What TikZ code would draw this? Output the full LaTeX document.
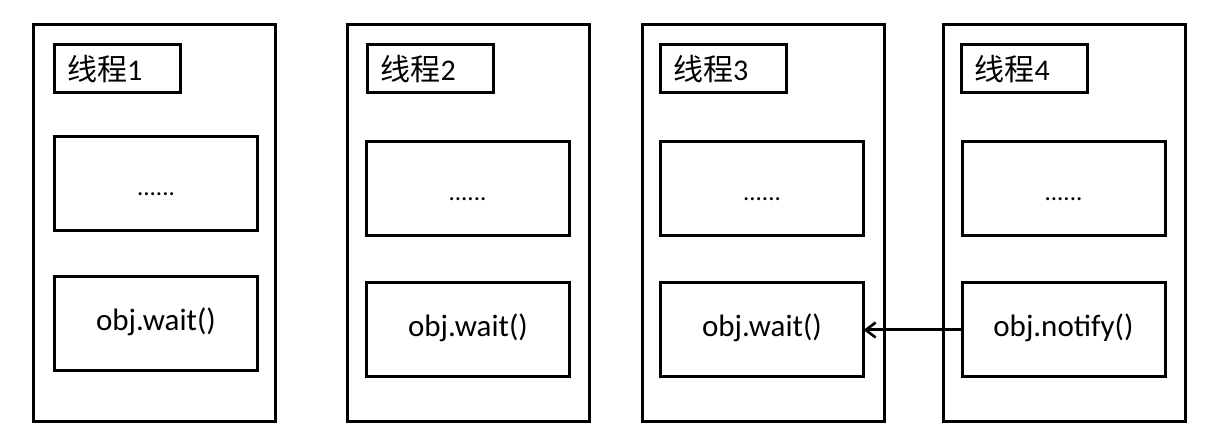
\documentclass[tikz,border=0pt]{standalone}
\usepackage{fontspec}
\setmainfont{Carlito}
\newfontfamily\cjk{Noto Sans CJK SC}
\usetikzlibrary{arrows.meta}
\begin{document}
\begin{tikzpicture}[x=1pt,y=1pt,
  every node/.style={inner sep=0pt, outer sep=0pt, font=\fontsize{31}{32}\selectfont},
  outerbox/.style={draw, line width=3pt, minimum width=242pt, minimum height=397pt},
  titlebox/.style={draw, line width=3pt, minimum height=48pt, inner xsep=13pt, text width=100pt, align=left, font=\fontsize{30}{32}\selectfont},
  stepbox/.style={draw, line width=3pt, minimum width=203pt, minimum height=94pt},
  dots/.style={font=\fontsize{25}{32}\selectfont},
  link/.style={line width=3pt, -{Straight Barb[length=10pt,width=15pt,line width=2.6pt]}}
]
\useasboundingbox (0,0) rectangle (1216,444);
\fill[white] (0,0) rectangle (1216,444);
% thread 1
\node[outerbox] (o1) at (154.5,221) {};
\node[titlebox] (t1) at (117,375) {{\cjk 线程}1};
\node[stepbox, dots] (m1) at (156,260.5) {\strut\raisebox{-6pt}{......}};
\node[stepbox] (b1) at (156,120) {\strut obj.wait()};
% thread 2
\node[outerbox] (o2) at (468,221) {};
\node[titlebox] (t2) at (430.5,375) {{\cjk 线程}2};
\node[stepbox, dots] (m2) at (467.5,255.5) {\strut\raisebox{-6pt}{......}};
\node[stepbox] (b2) at (468,114) {\strut obj.wait()};
% thread 3
\node[outerbox] (o3) at (763.5,221) {};
\node[titlebox] (t3) at (723,375) {{\cjk 线程}3};
\node[stepbox, dots] (m3) at (762,255.5) {\strut\raisebox{-6pt}{......}};
\node[stepbox] (b3) at (762,114) {\strut obj.wait()};
% thread 4
\node[outerbox] (o4) at (1064.5,221) {};
\node[titlebox] (t4) at (1024.5,375) {{\cjk 线程}4};
\node[stepbox, dots] (m4) at (1063.5,255.5) {\strut\raisebox{-6pt}{......}};
\node[stepbox] (b4) at (1063.5,114) {\strut obj.notify()};
% notify arrow
\draw[link] (b4.west) -- (b3.east);
\end{tikzpicture}
\end{document}
